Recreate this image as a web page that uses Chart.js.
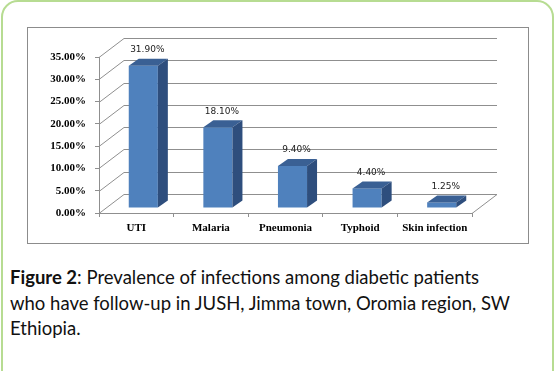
<!DOCTYPE html>
<html>
<head>
<meta charset="utf-8">
<script src="https://cdn.jsdelivr.net/npm/chart.js@4/dist/chart.umd.min.js"></script>
<style>
  html, body { margin: 0; padding: 0; background: #fff; }
  body { width: 556px; height: 371px; position: relative; overflow: hidden; }
  #green { position: absolute; left: 1px; top: 0px; width: 549px; height: 390px;
           border: 2px solid #b7dc92; border-radius: 17px; }
  #frame { position: absolute; left: 27px; top: 27px; width: 500px; height: 215px;
           border: 1px solid #8c8c8c; }
  #c { position: absolute; left: 0; top: 0; }
  #cap { position: absolute; left: 10px; top: 265px; font-family: Lato, sans-serif;
         font-size: 18.5px; line-height: 25.5px; color: #111; white-space: nowrap; }
</style>
</head>
<body>
<div id="green"></div>
<div id="frame"></div>
<canvas id="c" width="556" height="250"></canvas>
<div id="cap"><b>Figure 2</b>: Prevalence of infections among diabetic patients<br>who have follow-up in JUSH, Jimma town, Oromia region, SW<br>Ethiopia.</div>
<script>
const categories = ["UTI", "Malaria", "Pneumonia", "Typhoid", "Skin infection"];
const prevalence = [31.90, 18.10, 9.40, 4.40, 1.25];
const valueLabels = ["31.90%", "18.10%", "9.40%", "4.40%", "1.25%"];
const yMin = 0, yMax = 35, yStep = 5;

// 3D geometry
const WALL_DX = 25, WALL_DY = -19;   // depth of the whole plot box
const BAR_DX = 7, BAR_DY = -5;       // bars sit slightly back from front plane
const BAR_DEPTH_X = 10, BAR_DEPTH_Y = -7;

const threeD = {
  id: 'threeD',
  beforeDatasetsDraw(chart) {
    const ctx = chart.ctx, y = chart.scales.y, a = chart.chartArea;
    ctx.save();
    ctx.strokeStyle = '#8f8f8f';
    ctx.lineWidth = 1;
    y.ticks.forEach(t => {
      const py = Math.round(y.getPixelForValue(t.value)) + 0.5;
      ctx.beginPath();
      ctx.moveTo(a.left + WALL_DX, py + WALL_DY);
      ctx.lineTo(a.right + WALL_DX, py + WALL_DY);
      ctx.stroke();
      ctx.beginPath();
      ctx.moveTo(a.left, py);
      ctx.lineTo(a.left + WALL_DX, py + WALL_DY);
      ctx.stroke();
    });
    const pb = Math.round(a.bottom) + 0.5;
    ctx.beginPath();
    ctx.moveTo(a.right, pb);
    ctx.lineTo(a.right + WALL_DX, pb + WALL_DY);
    ctx.stroke();
    ctx.restore();
    ctx.save();
    ctx.translate(BAR_DX, BAR_DY);
  },
  afterDatasetsDraw(chart) {
    const ctx = chart.ctx;
    const meta = chart.getDatasetMeta(0);
    meta.data.forEach((bar, i) => {
      const p = bar.getProps(['x', 'y', 'base', 'width'], true);
      const l = p.x - p.width / 2, r = p.x + p.width / 2, t = p.y, b = p.base;
      ctx.fillStyle = '#3a6094';
      ctx.beginPath();
      ctx.moveTo(l, t); ctx.lineTo(l + BAR_DEPTH_X, t + BAR_DEPTH_Y);
      ctx.lineTo(r + BAR_DEPTH_X, t + BAR_DEPTH_Y); ctx.lineTo(r, t);
      ctx.closePath(); ctx.fill();
      ctx.fillStyle = '#2e4e7d';
      ctx.beginPath();
      ctx.moveTo(r, t); ctx.lineTo(r + BAR_DEPTH_X, t + BAR_DEPTH_Y);
      ctx.lineTo(r + BAR_DEPTH_X, b + BAR_DEPTH_Y); ctx.lineTo(r, b);
      ctx.closePath(); ctx.fill();
      ctx.fillStyle = '#222';
      ctx.font = '9px "DejaVu Sans"';
      ctx.textAlign = 'center';
      ctx.textBaseline = 'middle';
      ctx.fillText(valueLabels[i], p.x + BAR_DEPTH_X / 2 - 1, t + BAR_DEPTH_Y - 9);
    });
    ctx.restore();
  }
};

new Chart(document.getElementById('c'), {
  type: 'bar',
  data: {
    labels: categories,
    datasets: [{
      data: prevalence,
      backgroundColor: '#4f81bd',
      borderWidth: 0,
      categoryPercentage: 1,
      barPercentage: 0.39
    }]
  },
  plugins: [threeD],
  options: {
    responsive: false,
    animation: false,
    events: [],
    layout: { padding: { left: 39, right: 84, top: 57, bottom: 7 } },
    plugins: { legend: { display: false }, tooltip: { enabled: false } },
    scales: {
      x: {
        offset: true,
        afterFit: s => { s.height = 30; },
        grid: { drawOnChartArea: false, offset: true, tickLength: 4, color: '#8f8f8f' },
        border: { color: '#8f8f8f' },
        ticks: { color: '#000', padding: 5, maxRotation: 0,
                 font: { family: '"Liberation Serif"', size: 11, weight: 'bold' } }
      },
      y: {
        min: yMin, max: yMax,
        afterFit: s => { s.width = 60; },
        grid: { drawOnChartArea: false, tickLength: 4, color: '#8f8f8f' },
        border: { color: '#8f8f8f' },
        ticks: { stepSize: yStep, color: '#000', padding: 9,
                 callback: v => v.toFixed(2) + '%',
                 font: { family: '"Liberation Serif"', size: 11, weight: 'bold' } }
      }
    }
  }
});
</script>
</body>
</html>
